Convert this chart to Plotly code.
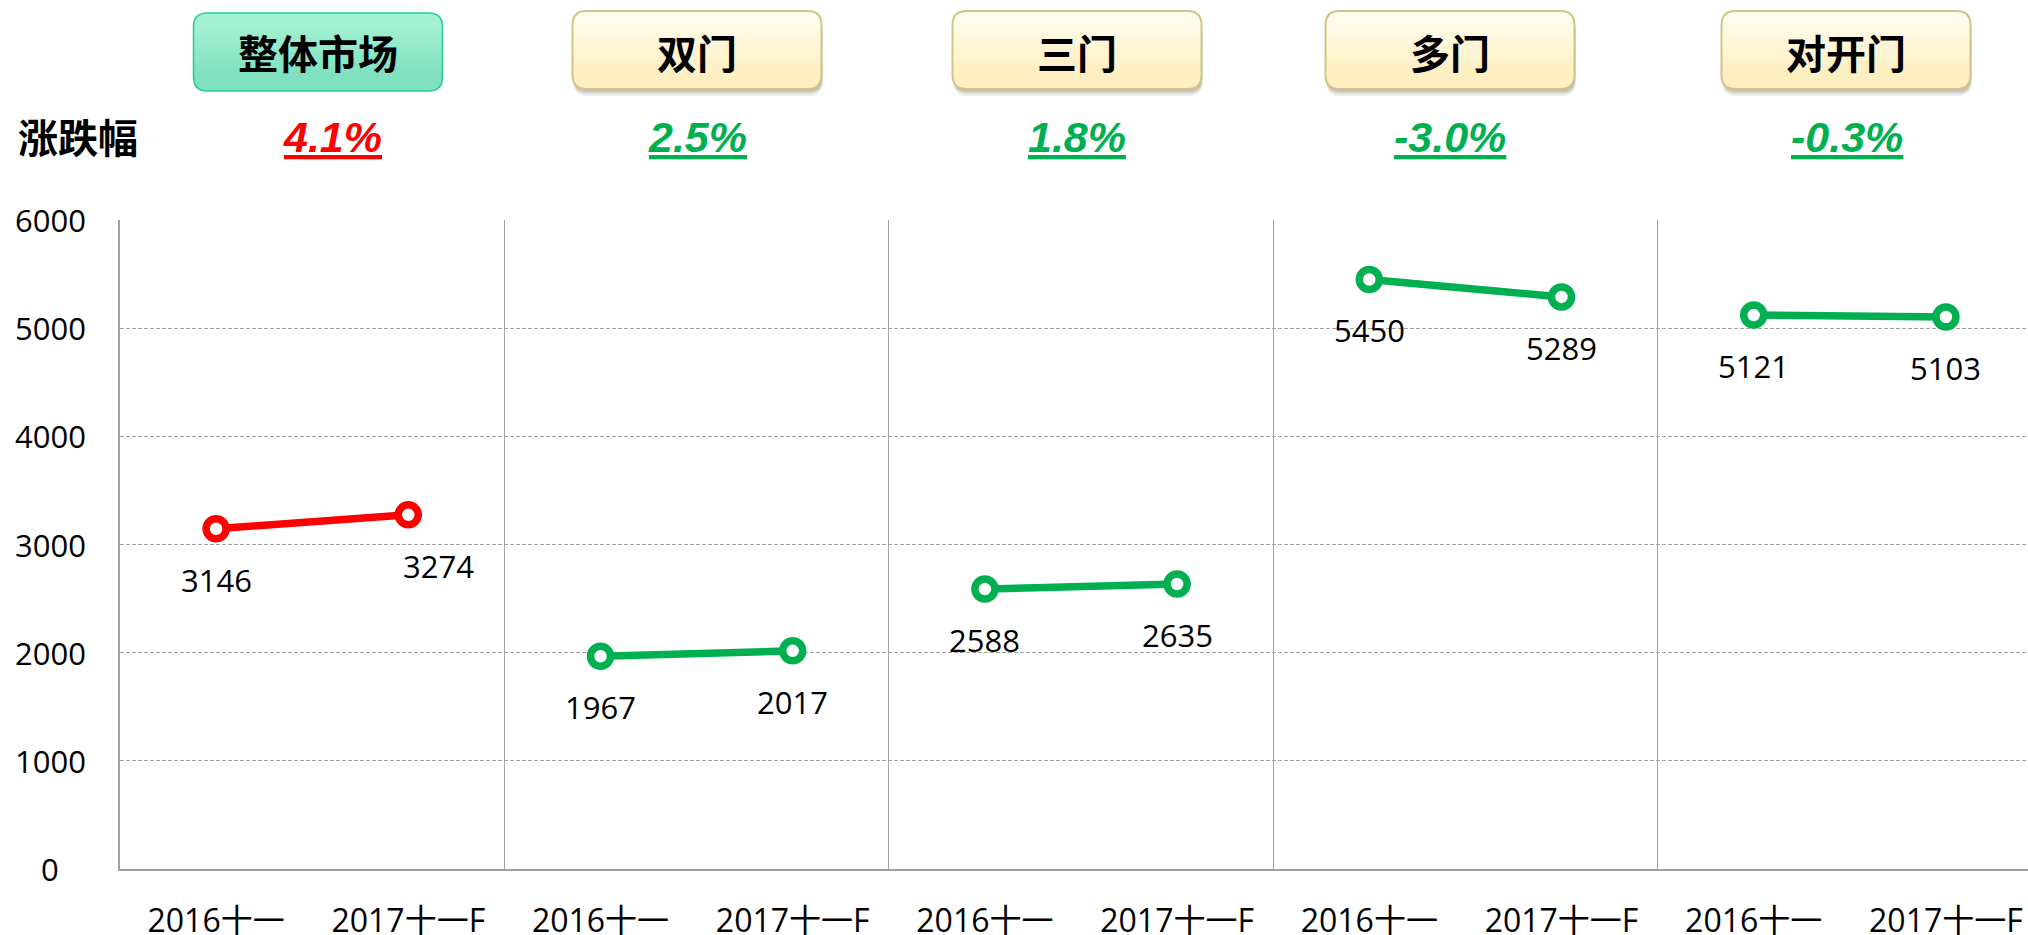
import plotly.graph_objects as go

W, H = 2028, 935

SEGMENTS = ["整体市场", "双门", "三门", "多门", "对开门"]
PERIODS = ["2016十一", "2017十一F"]
PRICE_2016 = [3146, 1967, 2588, 5450, 5121]
PRICE_2017 = [3274, 2017, 2635, 5289, 5103]
CHANGE_PCT = ["4.1%", "2.5%", "1.8%", "-3.0%", "-0.3%"]
Y_TICKS = [0, 1000, 2000, 3000, 4000, 5000, 6000]

RED = "#FF0000"
GREEN = "#00B050"
GRID = "#A0A0A0"
CJK = "Noto Sans CJK SC"
NUM = "Open Sans, Noto Sans CJK SC"

# layout in pixels (margins are zero, domains place the axes)
PX_LEFT, PX_TOP, PX_BOTTOM = 120, 220, 869
CAT_PX = 192.2
HEADER_CX = [318, 697, 1077, 1450, 1846]
PCT_CX = [332, 697, 1077, 1450, 1847]
BOX_HALF_W = 124.5


def px(p):
    return p / W


def py(p):
    return 1 - p / H


def box_path(x0, x1, y0, y1, r=14, round_top=True):
    """Rounded rectangle in pixel coords -> SVG path in paper coords."""
    rt = r if round_top else 0
    pts = [
        f"M {px(x0 + rt)},{py(y0)}", f"L {px(x1 - rt)},{py(y0)}",
        f"Q {px(x1)},{py(y0)} {px(x1)},{py(y0 + rt)}",
        f"L {px(x1)},{py(y1 - r)}", f"Q {px(x1)},{py(y1)} {px(x1 - r)},{py(y1)}",
        f"L {px(x0 + r)},{py(y1)}", f"Q {px(x0)},{py(y1)} {px(x0)},{py(y1 - r)}",
        f"L {px(x0)},{py(y0 + rt)}", f"Q {px(x0)},{py(y0)} {px(x0 + rt)},{py(y0)}", "Z",
    ]
    return " ".join(pts)


def blend(c0, c1, t):
    a = [int(c0[k:k + 2], 16) for k in (1, 3, 5)]
    b = [int(c1[k:k + 2], 16) for k in (1, 3, 5)]
    return "#" + "".join(f"{round(u + (v - u) * t):02X}" for u, v in zip(a, b))


def gradient_box(cx, y0, y1, top, bottom, border, border_w, shadow):
    x0, x1 = cx - BOX_HALF_W, cx + BOX_HALF_W
    out = []
    if shadow:
        for dy, alpha in ((7, 0.10), (5, 0.14), (3, 0.18)):
            out.append(dict(type="path", xref="paper", yref="paper",
                            path=box_path(x0 + 1, x1 + 1, y0 + dy, y1 + dy),
                            fillcolor=f"rgba(100,90,60,{alpha})", line=dict(width=0)))
    out.append(dict(type="path", xref="paper", yref="paper",
                    path=box_path(x0, x1, y0, y1), fillcolor=top, line=dict(width=0)))
    n = 10
    for k in range(1, n + 1):
        ys = y0 + 14 + (y1 - y0 - 28) * (k - 1) / n
        out.append(dict(type="path", xref="paper", yref="paper",
                        path=box_path(x0, x1, ys, y1, round_top=False),
                        fillcolor=blend(top, bottom, k / n), line=dict(width=0)))
    out.append(dict(type="path", xref="paper", yref="paper",
                    path=box_path(x0, x1, y0, y1), fillcolor="rgba(0,0,0,0)",
                    line=dict(color=border, width=border_w)))
    return out


fig = go.Figure()

colors = [RED] + [GREEN] * (len(SEGMENTS) - 1)
annotations = []
shapes = []
tickvals, ticktext = [], []

for i, seg in enumerate(SEGMENTS):
    xs = [2 * i, 2 * i + 1]
    ys = [PRICE_2016[i], PRICE_2017[i]]
    tickvals += xs
    ticktext += PERIODS
    fig.add_trace(go.Scatter(
        x=xs, y=ys, mode="lines+markers", name=seg,
        line=dict(color=colors[i], width=7.5),
        marker=dict(symbol="circle", size=20, color="white",
                    line=dict(color=colors[i], width=7.5)),
        cliponaxis=False, showlegend=False, hoverinfo="skip",
    ))
    for j, (x, y) in enumerate(zip(xs, ys)):
        annotations.append(dict(
            x=x, y=y, xref="x", yref="y", text=str(y), showarrow=False,
            xanchor="center", yanchor="middle",
            yshift=-51, xshift=30 if (i == 0 and j == 1) else 0,
            font=dict(family=NUM, size=31, color="black"),
        ))

    # header box
    if i == 0:
        shapes += gradient_box(HEADER_CX[i], 13, 91, "#A3F1D3", "#7FE1BF",
                               "#22CC9C", 1.5, shadow=False)
    else:
        shapes += gradient_box(HEADER_CX[i], 11, 89, "#FFFBEA", "#FDEFC2",
                               "#D2C38A", 2, shadow=True)
    annotations.append(dict(
        x=px(HEADER_CX[i]), y=py(52), xref="paper", yref="paper", text=f"<b>{seg}</b>",
        xanchor="center", yanchor="middle",
        showarrow=False, font=dict(family=CJK, size=40, color="black"),
    ))
    annotations.append(dict(
        x=px(PCT_CX[i]), y=py(137), xref="paper", yref="paper",
        text=f"<b><i><u>{CHANGE_PCT[i]}</u></i></b>",
        xanchor="center", yanchor="middle",
        showarrow=False, font=dict(family="Liberation Sans", size=43, color=colors[i]),
    ))

annotations.append(dict(
    x=px(78), y=py(136), xref="paper", yref="paper", text="<b>涨跌幅</b>",
    xanchor="center", yanchor="middle",
    showarrow=False, font=dict(family=CJK, size=40, color="black"),
))

# y tick labels, centred like the original
for v in Y_TICKS:
    annotations.append(dict(
        x=px(50), y=v, xref="paper", yref="y", text=str(v), showarrow=False,
        xanchor="center", yanchor="middle",
        font=dict(family=NUM, size=31, color="black"),
    ))

n_cat = 2 * len(SEGMENTS)
x_hi = -0.5 + (W - PX_LEFT) / CAT_PX

fig.update_layout(
    width=W, height=H,
    margin=dict(l=0, r=0, t=0, b=0, autoexpand=False),
    paper_bgcolor="white", plot_bgcolor="white",
    font=dict(family=NUM, size=28, color="black"),
    xaxis=dict(
        domain=[px(PX_LEFT), 1], range=[-0.5, x_hi], automargin=False,
        tickmode="array", tickvals=tickvals, ticktext=ticktext,
        tickfont=dict(family=NUM, size=32, color="black"),
        ticklabelstandoff=23,
        showgrid=False, zeroline=False,
        showline=True, linecolor=GRID, linewidth=1.5,
        minor=dict(tickmode="array", tickvals=[k + 1.5 for k in range(0, n_cat - 2, 2)],
                   showgrid=True, gridcolor=GRID, gridwidth=1, ticklen=0),
    ),
    yaxis=dict(
        domain=[py(PX_BOTTOM), py(PX_TOP)], range=[0, 6000], automargin=False,
        tickvals=Y_TICKS, showticklabels=False,
        showgrid=True, gridcolor=GRID, gridwidth=1, griddash="4px,2px",
        zeroline=False, showline=True, linecolor=GRID, linewidth=1.5,
    ),
    shapes=shapes,
    annotations=annotations,
)

fig.write_html("out.html", config={"displayModeBar": False},
               post_script="document.body.style.margin='0';")
